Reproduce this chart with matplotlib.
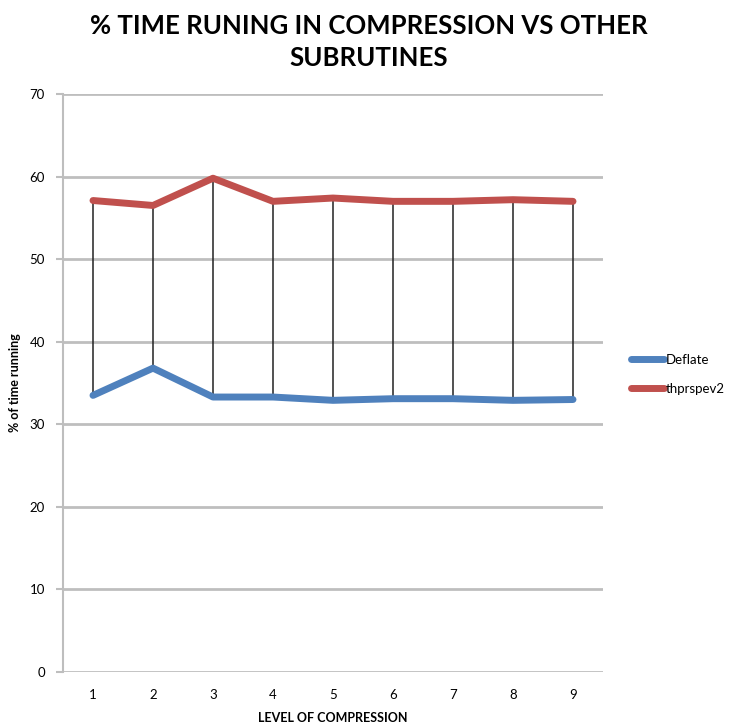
import matplotlib
matplotlib.use("Agg")
import matplotlib.pyplot as plt

levels = [1, 2, 3, 4, 5, 6, 7, 8, 9]
deflate = [33.5, 36.8, 33.3, 33.3, 32.9, 33.1, 33.1, 32.9, 33.0]
thprspev2 = [57.1, 56.5, 59.8, 57.0, 57.4, 57.0, 57.0, 57.2, 57.0]
y_ticks = [0, 10, 20, 30, 40, 50, 60, 70]

plt.rcParams['font.family'] = ['Lato', 'DejaVu Sans']

fig = plt.figure(figsize=(7.30, 7.28), dpi=100)
ax = fig.add_axes([63 / 730, 1 - 672 / 728, 540 / 730, 578 / 728])

blue = '#4F81BD'
red = '#C0504D'
grid = '#BEBEBE'

for y in y_ticks:
    ax.axhline(y, color=grid, lw=2.0, zorder=1)

# high-low lines between the two series
ax.vlines(levels, deflate, thprspev2, color='#222222', lw=1.1, zorder=2)

ax.plot(levels, deflate, color=blue, lw=5, solid_capstyle='round',
        solid_joinstyle='round', zorder=3, label='Deflate')
ax.plot(levels, thprspev2, color=red, lw=5, solid_capstyle='round',
        solid_joinstyle='round', zorder=3, label='thprspev2')

ax.set_xlim(0.5, 9.5)
ax.set_ylim(0, 70)
ax.set_yticks(y_ticks)
ax.set_xticks(levels)
ax.tick_params(axis='y', length=5, color=grid, width=1.5, labelsize=9.5, pad=8)
ax.tick_params(axis='x', length=0, labelsize=9.5, pad=12)

for s in ['top', 'right', 'bottom']:
    ax.spines[s].set_visible(False)
ax.spines['left'].set_color(grid)
ax.spines['left'].set_linewidth(1.5)

ax.set_xlabel('LEVEL OF COMPRESSION', fontsize=9, fontweight='bold', labelpad=8)
ax.set_ylabel('% of time running', fontsize=9, fontweight='bold', labelpad=6)

leg = ax.legend(loc='center left', bbox_to_anchor=(1.03, 0.515), frameon=False,
                fontsize=9.5, handlelength=2.5, handletextpad=0.1,
                labelspacing=1.3)

fig.text(0.505, 1 - 42 / 728, '% TIME RUNING IN COMPRESSION VS OTHER\nSUBRUTINES',
         ha='center', va='center', fontsize=18.5, fontweight='bold',
         linespacing=1.35)

fig.savefig('out.png', dpi=100, facecolor='white')
